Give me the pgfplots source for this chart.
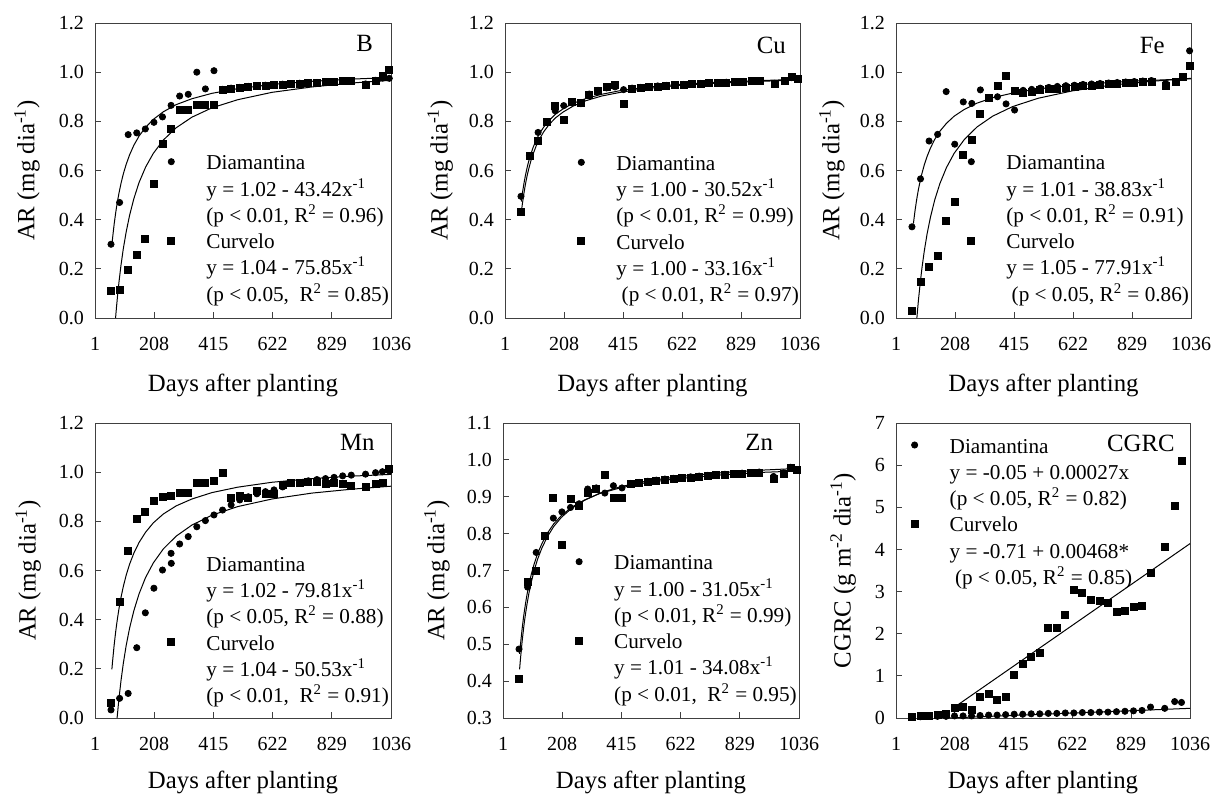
\documentclass[border=0pt]{standalone}
\usepackage{fontspec}
\setmainfont{Liberation Serif}
\usepackage{pgfplots}
\usepackage{pgfplotstable}
\pgfplotsset{compat=1.18}

\newcommand{\tickfont}{\fontsize{10}{12}\selectfont}
\newcommand{\labfont}{\fontsize{12.4}{15}\selectfont}
\newcommand{\legfont}{\fontsize{10.6}{12}\selectfont}
\newcommand{\sups}[1]{\textsuperscript{#1}}

\pgfplotsset{
  panel/.style={
    scale only axis, width=148pt, height=147.5pt,
    anchor=south west,
    xmin=1, xmax=1036,
    xtick={1,208,415,622,829,1036},
    xticklabels={1,208,415,622,829,1036},
    tick align=inside, tick pos=left,
    major tick length=2.8pt,
    axis line style={black!75, line width=0.5pt},
    every tick/.style={black!75, line width=0.5pt},
    tick label style={font=\tickfont},
    xticklabel style={yshift=-6pt},
    yticklabel style={xshift=-2pt},
    label style={font=\labfont},
    xlabel={Days after planting},
    ylabel style={anchor=center},
    xlabel style={anchor=base},
    clip=false,
    legend cell align=left,
    legend image code/.code={\draw[##1] plot coordinates {(0pt,0pt)};},
    legend style={draw=none, fill=none, inner sep=0pt, outer sep=0pt,
      anchor=north west, row sep=0.75pt, font=\legfont,
      nodes={inner sep=0pt, text height=10.2pt, text depth=2.2pt},
      /tikz/every odd column/.style={column sep=15.8pt}},
  },
  dia/.style={only marks, mark=*, mark size=1.55pt, black, mark options={fill=black}, forget plot},
  cur/.style={only marks, mark=square*, mark size=1.75pt, black, mark options={fill=black}, forget plot},
  fit/.style={black, line width=0.5pt, no marks, forget plot},
}

\pgfplotstableread{
x D C
57 0.300 0.111
87 0.470 0.115
117 0.746 0.194
147 0.753 0.258
177 0.769 0.321
207 0.796 0.545
237 0.818 0.710
267 0.865 0.769
297 0.903 0.847
327 0.910 0.847
357 1.000 0.868
387 0.932 0.868
417 1.006 0.868
447 0.930 0.928
477 0.935 0.933
507 0.938 0.937
537 0.942 0.941
567 0.945 0.944
597 0.947 0.946
627 0.949 0.948
657 0.951 0.950
687 0.953 0.952
717 0.955 0.954
747 0.957 0.956
777 0.958 0.957
807 0.960 0.959
837 0.962 0.961
867 0.964 0.963
897 0.966 0.965
947 0.952 0.949
982 0.967 0.963
1006 0.976 0.986
1030 0.975 1.010
}\datB

\pgfplotstableread{
x D C
57 0.495 0.430
87 0.660 0.660
117 0.755 0.719
147 0.797 0.796
177 0.843 0.864
207 0.864 0.804
237 0.875 0.881
267 0.872 0.875
297 0.911 0.908
327 0.926 0.922
357 0.936 0.942
387 0.940 0.949
417 0.929 0.870
447 0.935 0.933
477 0.938 0.936
507 0.941 0.939
537 0.944 0.942
567 0.946 0.945
597 0.948 0.947
627 0.950 0.949
657 0.952 0.951
687 0.954 0.953
717 0.956 0.955
747 0.958 0.957
777 0.959 0.958
807 0.961 0.960
837 0.962 0.961
867 0.964 0.963
897 0.966 0.965
947 0.955 0.953
982 0.965 0.965
1006 0.978 0.980
1030 0.972 0.972
}\datCu

\pgfplotstableread{
x D C
57 0.371 0.028
87 0.566 0.148
117 0.720 0.206
147 0.747 0.252
177 0.921 0.395
207 0.707 0.473
237 0.879 0.663
267 0.873 0.724
297 0.928 0.829
327 0.895 0.894
357 0.900 0.944
387 0.871 0.985
417 0.846 0.923
447 0.926 0.915
477 0.930 0.921
507 0.935 0.926
537 0.938 0.930
567 0.942 0.934
597 0.945 0.937
627 0.947 0.940
657 0.950 0.943
687 0.952 0.946
717 0.954 0.949
747 0.956 0.951
777 0.958 0.953
807 0.960 0.955
837 0.962 0.957
867 0.964 0.959
897 0.966 0.962
947 0.955 0.945
982 0.962 0.959
1006 0.980 0.979
1031 1.087 1.025
}\datFe

\pgfplotstableread{
x D C
57 0.033 0.062
87 0.080 0.473
117 0.100 0.679
147 0.286 0.810
177 0.428 0.837
207 0.528 0.884
237 0.602 0.900
267 0.670 0.903
297 0.708 0.914
327 0.738 0.914
357 0.778 0.955
387 0.803 0.957
417 0.826 0.964
447 0.846 0.998
477 0.867 0.894
507 0.887 0.903
537 0.900 0.894
567 0.912 0.925
597 0.921 0.912
627 0.928 0.912
657 0.940 0.948
687 0.955 0.955
717 0.957 0.955
747 0.965 0.962
777 0.970 0.962
807 0.974 0.951
837 0.979 0.955
867 0.985 0.953
897 0.988 0.946
947 0.992 0.939
982 0.998 0.953
1006 1.002 0.955
1030 1.005 1.012
}\datMn

\pgfplotstableread{
x D C
57 0.487 0.406
87 0.655 0.668
117 0.749 0.700
147 0.793 0.795
177 0.842 0.897
207 0.859 0.770
237 0.871 0.894
267 0.881 0.874
297 0.921 0.910
327 0.924 0.922
357 0.910 0.960
387 0.930 0.897
417 0.924 0.897
447 0.936 0.934
477 0.939 0.937
507 0.942 0.940
537 0.945 0.943
567 0.948 0.946
597 0.950 0.948
627 0.952 0.950
657 0.954 0.952
687 0.956 0.954
717 0.958 0.956
747 0.959 0.958
777 0.961 0.960
807 0.962 0.961
837 0.964 0.963
867 0.965 0.964
897 0.967 0.966
947 0.955 0.948
982 0.965 0.962
1006 0.980 0.978
1030 0.973 0.973
}\datZn

\pgfplotstableread{
x D C
57 0.02 0.02
87 0.03 0.05
117 0.04 0.06
147 0.04 0.08
177 0.04 0.10
207 0.05 0.24
237 0.05 0.26
267 0.05 0.20
297 0.06 0.51
327 0.07 0.57
357 0.07 0.42
387 0.08 0.51
417 0.09 1.03
447 0.09 1.29
477 0.10 1.45
507 0.10 1.54
537 0.11 2.14
567 0.11 2.14
597 0.12 2.45
627 0.12 3.03
657 0.13 2.97
687 0.13 2.81
717 0.14 2.77
747 0.14 2.74
777 0.15 2.51
807 0.16 2.55
837 0.17 2.63
867 0.18 2.67
897 0.26 3.44
947 0.23 4.05
982 0.39 5.04
1006 0.37 6.09
}\datCG

\begin{document}
\begin{tikzpicture}
\useasboundingbox (0,0) rectangle (606.5pt,-399.5pt);

% ---------------- B ----------------
\begin{axis}[panel, at={(47.5pt,-159pt)}, width=148pt,
  ymin=0, ymax=1.2, ytick={0,0.2,0.4,0.6,0.8,1.0,1.2},
  yticklabels={0.0,0.2,0.4,0.6,0.8,1.0,1.2},
  ylabel={AR (mg dia\sups{-1})},
  ylabel style={at={(rel axis cs:-0.2297,0.5)}},
  xlabel style={at={(rel axis cs:0.5,-0.2498)}},
  legend style={at={(0.2459,0.5719)}}]
\addplot[fit] coordinates {(60,0.296)(62,0.320)(68,0.382)(73,0.425)(76,0.449)(80,0.477)(85,0.509)(92,0.548)(100,0.586)(110,0.625)(122,0.664)(137,0.703)(155,0.740)(178,0.776)(205,0.808)(240,0.839)(285,0.868)(340,0.892)(410,0.914)(500,0.933)(620,0.950)(760,0.963)(900,0.972)(1036,0.978)};
\addplot[fit] coordinates {(72.9,0.000)(76,0.042)(80,0.092)(85,0.148)(92,0.216)(100,0.282)(110,0.350)(122,0.418)(137,0.486)(155,0.551)(178,0.614)(205,0.670)(240,0.724)(285,0.774)(340,0.817)(410,0.855)(500,0.888)(620,0.918)(760,0.940)(900,0.956)(1036,0.967)};
\addplot[dia] table[x=x,y=D] {\datB};
\addplot[cur] table[x=x,y=C] {\datB};
\addlegendimage{only marks, mark=*, mark size=1.55pt, black, mark options={fill=black}}
\addlegendentry{Diamantina}
\addlegendimage{empty legend}\addlegendentry{y = 1.02 - 43.42x\sups{-1}}
\addlegendimage{empty legend}\addlegendentry{(p < 0.01, R\sups{2} = 0.96)}
\addlegendimage{only marks, mark=square*, mark size=1.75pt, black, mark options={fill=black}}
\addlegendentry{Curvelo}
\addlegendimage{empty legend}\addlegendentry{y = 1.04 - 75.85x\sups{-1}}
\addlegendimage{empty legend}\addlegendentry{(p < 0.05,\ \ R\sups{2} = 0.85)}
\node[anchor=base east, font=\labfont] at (rel axis cs:0.963,0.9027) {B};
\end{axis}

% ---------------- Cu ----------------
\begin{axis}[panel, at={(252.5pt,-159pt)}, width=147.5pt,
  ymin=0, ymax=1.2, ytick={0,0.2,0.4,0.6,0.8,1.0,1.2},
  yticklabels={0.0,0.2,0.4,0.6,0.8,1.0,1.2},
  ylabel={AR (mg dia\sups{-1})},
  ylabel style={at={(rel axis cs:-0.220,0.5)}},
  xlabel style={at={(rel axis cs:0.5,-0.2498)}},
  legend style={at={(0.2468,0.5698)}}]
\addplot[fit] coordinates {(58,0.474)(62,0.508)(68,0.551)(73,0.582)(76,0.598)(80,0.619)(85,0.641)(92,0.668)(100,0.695)(110,0.723)(122,0.750)(137,0.777)(155,0.803)(178,0.829)(205,0.851)(240,0.873)(285,0.893)(340,0.910)(410,0.926)(500,0.939)(620,0.951)(760,0.960)(900,0.966)(1036,0.971)};
\addplot[fit] coordinates {(58,0.428)(62,0.465)(68,0.512)(73,0.546)(76,0.564)(80,0.586)(85,0.610)(92,0.640)(100,0.668)(110,0.699)(122,0.728)(137,0.758)(155,0.786)(178,0.814)(205,0.838)(240,0.862)(285,0.884)(340,0.903)(410,0.919)(500,0.934)(620,0.947)(760,0.956)(900,0.963)(1036,0.968)};
\addplot[dia] table[x=x,y=D] {\datCu};
\addplot[cur] table[x=x,y=C] {\datCu};
\addlegendimage{only marks, mark=*, mark size=1.55pt, black, mark options={fill=black}}
\addlegendentry{Diamantina}
\addlegendimage{empty legend}\addlegendentry{y = 1.00 - 30.52x\sups{-1}}
\addlegendimage{empty legend}\addlegendentry{(p < 0.01, R\sups{2} = 0.99)}
\addlegendimage{only marks, mark=square*, mark size=1.75pt, black, mark options={fill=black}}
\addlegendentry{Curvelo}
\addlegendimage{empty legend}\addlegendentry{y = 1.00 - 33.16x\sups{-1}}
\addlegendimage{empty legend}\addlegendentry{\ (p < 0.01, R\sups{2} = 0.97)}
\node[anchor=base east, font=\labfont] at (rel axis cs:0.976,0.897) {Cu};
\end{axis}

% ---------------- Fe ----------------
\begin{axis}[panel, at={(448pt,-159pt)}, width=147.5pt,
  ymin=0, ymax=1.2, ytick={0,0.2,0.4,0.6,0.8,1.0,1.2},
  yticklabels={0.0,0.2,0.4,0.6,0.8,1.0,1.2},
  ylabel={AR (mg dia\sups{-1})},
  ylabel style={at={(rel axis cs:-0.217,0.5)}},
  xlabel style={at={(rel axis cs:0.5,-0.2498)}},
  legend style={at={(0.2434,0.5719)}}]
\addplot[fit] coordinates {(62,0.384)(68,0.439)(73,0.478)(76,0.499)(80,0.525)(85,0.553)(92,0.588)(100,0.622)(110,0.657)(122,0.692)(137,0.727)(155,0.760)(178,0.792)(205,0.821)(240,0.848)(285,0.874)(340,0.896)(410,0.915)(500,0.932)(620,0.947)(760,0.959)(900,0.967)(1036,0.973)};
\addplot[fit] coordinates {(74.2,0.000)(76,0.025)(80,0.076)(85,0.133)(92,0.203)(100,0.271)(110,0.342)(122,0.411)(137,0.481)(155,0.547)(178,0.612)(205,0.670)(240,0.725)(285,0.777)(340,0.821)(410,0.860)(500,0.894)(620,0.924)(760,0.948)(900,0.963)(1036,0.975)};
\addplot[dia] table[x=x,y=D] {\datFe};
\addplot[cur] table[x=x,y=C] {\datFe};
\addlegendimage{only marks, mark=*, mark size=1.55pt, black, mark options={fill=black}}
\addlegendentry{Diamantina}
\addlegendimage{empty legend}\addlegendentry{y = 1.01 - 38.83x\sups{-1}}
\addlegendimage{empty legend}\addlegendentry{(p < 0.01, R\sups{2} = 0.91)}
\addlegendimage{only marks, mark=square*, mark size=1.75pt, black, mark options={fill=black}}
\addlegendentry{Curvelo}
\addlegendimage{empty legend}\addlegendentry{y = 1.05 - 77.91x\sups{-1}}
\addlegendimage{empty legend}\addlegendentry{\ (p < 0.05, R\sups{2} = 0.86)}
\node[anchor=base east, font=\labfont] at (rel axis cs:0.9346,0.897) {Fe};
\end{axis}

% ---------------- Mn ----------------
\begin{axis}[panel, at={(47.5pt,-359pt)}, width=148pt,
  ymin=0, ymax=1.2, ytick={0,0.2,0.4,0.6,0.8,1.0,1.2},
  yticklabels={0.0,0.2,0.4,0.6,0.8,1.0,1.2},
  ylabel={AR (mg dia\sups{-1})},
  ylabel style={at={(rel axis cs:-0.226,0.5)}},
  xlabel style={at={(rel axis cs:0.5,-0.2373)}},
  legend style={at={(0.2459,0.5664)}}]
\addplot[fit] coordinates {(78.25,0.000)(80,0.022)(85,0.081)(92,0.153)(100,0.222)(110,0.295)(122,0.366)(137,0.437)(155,0.505)(178,0.572)(205,0.631)(240,0.688)(285,0.740)(340,0.785)(410,0.825)(500,0.860)(620,0.891)(760,0.915)(900,0.931)(1036,0.943)};
\addplot[fit] coordinates {(60,0.198)(62,0.225)(68,0.297)(73,0.348)(76,0.375)(80,0.408)(85,0.446)(92,0.491)(100,0.535)(110,0.581)(122,0.626)(137,0.671)(155,0.714)(178,0.756)(205,0.794)(240,0.830)(285,0.863)(340,0.891)(410,0.917)(500,0.939)(620,0.959)(760,0.974)(900,0.984)(1036,0.991)};
\addplot[dia] table[x=x,y=D] {\datMn};
\addplot[cur] table[x=x,y=C] {\datMn};
\addlegendimage{only marks, mark=*, mark size=1.55pt, black, mark options={fill=black}}
\addlegendentry{Diamantina}
\addlegendimage{empty legend}\addlegendentry{y = 1.02 - 79.81x\sups{-1}}
\addlegendimage{empty legend}\addlegendentry{(p < 0.05, R\sups{2} = 0.88)}
\addlegendimage{only marks, mark=square*, mark size=1.75pt, black, mark options={fill=black}}
\addlegendentry{Curvelo}
\addlegendimage{empty legend}\addlegendentry{y = 1.04 - 50.53x\sups{-1}}
\addlegendimage{empty legend}\addlegendentry{(p < 0.01,\ \ R\sups{2} = 0.91)}
\node[anchor=base east, font=\labfont] at (rel axis cs:0.9686,0.9085) {Mn};
\end{axis}

% ---------------- Zn ----------------
\begin{axis}[panel, at={(251.5pt,-359pt)}, width=148pt,
  ymin=0.3, ymax=1.1, ytick={0.3,0.4,0.5,0.6,0.7,0.8,0.9,1.0,1.1},
  yticklabels={0.3,0.4,0.5,0.6,0.7,0.8,0.9,1.0,1.1},
  ylabel={AR (mg dia\sups{-1})},
  ylabel style={at={(rel axis cs:-0.223,0.5)}},
  xlabel style={at={(rel axis cs:0.5,-0.2373)}},
  legend style={at={(0.2453,0.5719)}}]
\addplot[fit] coordinates {(59,0.474)(62,0.499)(68,0.543)(73,0.575)(76,0.591)(80,0.612)(85,0.635)(92,0.663)(100,0.690)(110,0.718)(122,0.746)(137,0.773)(155,0.800)(178,0.826)(205,0.849)(240,0.871)(285,0.891)(340,0.909)(410,0.924)(500,0.938)(620,0.950)(760,0.959)(900,0.966)(1036,0.970)};
\addplot[fit] coordinates {(59,0.432)(62,0.460)(68,0.509)(73,0.543)(76,0.562)(80,0.584)(85,0.609)(92,0.640)(100,0.669)(110,0.700)(122,0.731)(137,0.761)(155,0.790)(178,0.819)(205,0.844)(240,0.868)(285,0.890)(340,0.910)(410,0.927)(500,0.942)(620,0.955)(760,0.965)(900,0.972)(1036,0.977)};
\addplot[dia] table[x=x,y=D] {\datZn};
\addplot[cur] table[x=x,y=C] {\datZn};
\addlegendimage{only marks, mark=*, mark size=1.55pt, black, mark options={fill=black}}
\addlegendentry{Diamantina}
\addlegendimage{empty legend}\addlegendentry{y = 1.00 - 31.05x\sups{-1}}
\addlegendimage{empty legend}\addlegendentry{(p < 0.01, R\sups{2} = 0.99)}
\addlegendimage{only marks, mark=square*, mark size=1.75pt, black, mark options={fill=black}}
\addlegendentry{Curvelo}
\addlegendimage{empty legend}\addlegendentry{y = 1.01 - 34.08x\sups{-1}}
\addlegendimage{empty legend}\addlegendentry{(p < 0.01,\ \ R\sups{2} = 0.95)}
\node[anchor=base east, font=\labfont] at (rel axis cs:0.936,0.9085) {Zn};
\end{axis}

% ---------------- CGRC ----------------
\begin{axis}[panel, at={(448pt,-359pt)}, width=147pt,
  ymin=0, ymax=7, ytick={0,1,2,3,4,5,6,7},
  yticklabels={0,1,2,3,4,5,6,7},
  ylabel={CGRC (g m\sups{-2} dia\sups{-1})},
  ylabel style={at={(rel axis cs:-0.180,0.5)}},
  xlabel style={at={(rel axis cs:0.5,-0.2373)}},
  legend style={at={(0.0514,0.9675)}}]
\addplot[fit] coordinates {(185,0.000)(1036,0.230)};
\addplot[fit] coordinates {(215,0.296)(1036,4.138)};
\addplot[dia] table[x=x,y=D] {\datCG};
\addplot[cur] table[x=x,y=C] {\datCG};
\addlegendimage{only marks, mark=*, mark size=1.55pt, black, mark options={fill=black}}
\addlegendentry{Diamantina}
\addlegendimage{empty legend}\addlegendentry{y = -0.05 + 0.00027x}
\addlegendimage{empty legend}\addlegendentry{(p < 0.05, R\sups{2} = 0.82)}
\addlegendimage{only marks, mark=square*, mark size=1.75pt, black, mark options={fill=black}}
\addlegendentry{Curvelo}
\addlegendimage{empty legend}\addlegendentry{y = -0.71 + 0.00468*}
\addlegendimage{empty legend}\addlegendentry{\ (p < 0.05, R\sups{2} = 0.85)}
\node[anchor=base east, font=\labfont] at (rel axis cs:0.972,0.9027) {CGRC};
\end{axis}
\end{tikzpicture}
\end{document}
